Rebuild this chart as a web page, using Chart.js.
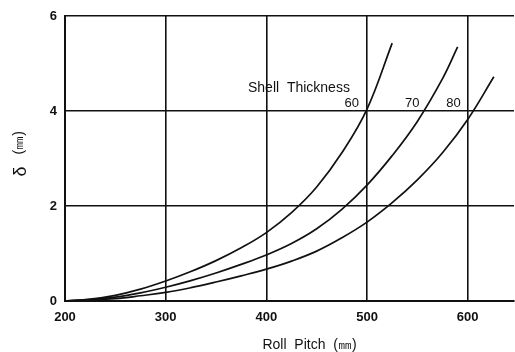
<!DOCTYPE html>
<html>
<head>
<meta charset="utf-8">
<script src="https://cdn.jsdelivr.net/npm/chart.js@4.4.1/dist/chart.umd.min.js"></script>
<style>
  html, body { margin: 0; padding: 0; background: #fff; }
  #wrap { width: 515px; height: 352px; }
</style>
</head>
<body>
<div id="wrap"><canvas id="myChart"></canvas></div>
<script>
// roll pitch (mm) vs bulging delta (mm), one curve per shell thickness
var pitch60 = [200, 225, 250, 275, 300, 325, 350, 375, 400, 425, 450, 475, 500, 525];
var delta60 = [0, 0.04, 0.12, 0.25, 0.42, 0.62, 0.85, 1.12, 1.44, 1.86, 2.40, 3.12, 4.04, 5.43];

var pitch70 = [200, 225, 250, 275, 300, 325, 350, 375, 400, 425, 450, 475, 500, 525, 550, 575, 590];
var delta70 = [0, 0.03, 0.08, 0.17, 0.29, 0.43, 0.59, 0.77, 0.97, 1.21, 1.52, 1.93, 2.44, 3.06, 3.78, 4.68, 5.35];

var pitch80 = [200, 225, 250, 275, 300, 325, 350, 375, 400, 425, 450, 475, 500, 525, 550, 575, 600, 626];
var delta80 = [0, 0.02, 0.05, 0.11, 0.18, 0.28, 0.40, 0.53, 0.67, 0.84, 1.05, 1.33, 1.66, 2.07, 2.55, 3.12, 3.82, 4.72];

var thickness = ['60', '70', '80'];
var xTicks = [200, 300, 400, 500, 600];
var yTicks = [0, 2, 4, 6];

// where the curve labels sit, in data units (pitch, delta)
var labelPos = [[492, 4.15], [552, 4.15], [593, 4.15]];
var headerPos = [483, 4.48];

var FONT = '"Liberation Sans", Arial, sans-serif';

function toXY(xs, ys) {
    var out = [];
    for (var i = 0; i < xs.length; i++) out.push({ x: xs[i], y: ys[i] });
    return out;
}

function curve(label, xs, ys) {
    return {
        label: label,
        data: toXY(xs, ys),
        showLine: true,
        borderColor: '#111',
        borderWidth: 1.7,
        pointRadius: 0,
        tension: 0.4,
        fill: false
    };
}

// text that Chart.js has no slot for: curve labels and the axis titles
var annotate = {
    id: 'annotate',
    afterDraw: function (chart) {
        var ctx = chart.ctx;
        var xs = chart.scales.x, ys = chart.scales.y;
        var area = chart.chartArea;
        ctx.save();
        ctx.fillStyle = '#111';
        ctx.textBaseline = 'middle';

        ctx.font = '14px ' + FONT;
        ctx.textAlign = 'right';
        ctx.fillText('Shell  Thickness', xs.getPixelForValue(headerPos[0]), ys.getPixelForValue(headerPos[1]));
        ctx.font = '13px ' + FONT;
        for (var i = 0; i < thickness.length; i++) {
            ctx.fillText(thickness[i], xs.getPixelForValue(labelPos[i][0]), ys.getPixelForValue(labelPos[i][1]));
        }

        // x title
        ctx.textAlign = 'center';
        ctx.font = '14px ' + FONT;
        ctx.fillText('Roll  Pitch  (\u339C)', (area.left + area.right) / 2 + 20, area.bottom + 44);

        // y title, rotated
        ctx.translate(20, (area.top + area.bottom) / 2);
        ctx.rotate(-Math.PI / 2);
        ctx.textAlign = 'left';
        ctx.font = '18px ' + FONT;
        ctx.fillText('\u03B4', -18, 1);
        ctx.font = '14px ' + FONT;
        ctx.fillText('(\u339C)', 4, -1);
        ctx.restore();
    }
};

function drawChart() {
    const ctx = document.getElementById('myChart');
    var myChart = new Chart(ctx, {
        type: 'scatter',
        data: {
            datasets: [
                curve('60', pitch60, delta60),
                curve('70', pitch70, delta70),
                curve('80', pitch80, delta80)
            ]
        },
        options: {
            responsive: true,
            maintainAspectRatio: false,
            animation: false,
            layout: { padding: { top: 16, right: 1, left: 0, bottom: 0 } },
            plugins: {
                legend: { display: false },
                tooltip: { enabled: false }
            },
            scales: {
                x: {
                    type: 'linear',
                    min: 200,
                    max: 646,
                    afterBuildTicks: function (scale) {
                        scale.ticks = xTicks.map(function (v) { return { value: v }; });
                    },
                    afterFit: function (scale) { scale.height = 51; },
                    grid: { color: '#111', lineWidth: 1.6, drawTicks: false },
                    border: { color: '#111', width: 2 },
                    ticks: {
                        color: '#111',
                        padding: 9,
                        maxRotation: 0,
                        font: { family: FONT, size: 13, weight: 'bold' }
                    }
                },
                y: {
                    min: 0,
                    max: 6,
                    afterBuildTicks: function (scale) {
                        scale.ticks = yTicks.map(function (v) { return { value: v }; });
                    },
                    afterFit: function (scale) { scale.width = 65; },
                    grid: { color: '#111', lineWidth: 1.6, drawTicks: false },
                    border: { color: '#111', width: 2 },
                    ticks: {
                        color: '#111',
                        padding: 8,
                        font: { family: FONT, size: 13, weight: 'bold' }
                    }
                }
            }
        },
        plugins: [annotate]
    });
    return myChart;
}

drawChart();
</script>
</body>
</html>
